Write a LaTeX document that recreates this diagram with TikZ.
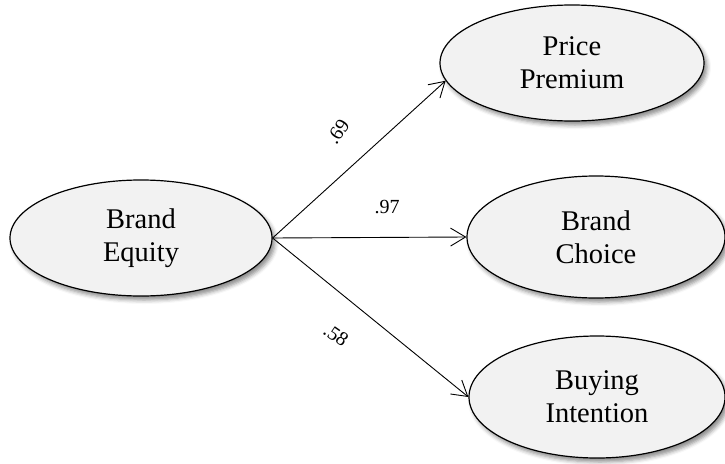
\documentclass[tikz,border=0pt]{standalone}
\usepackage{fontspec}
\setmainfont{Liberation Serif}
\usetikzlibrary{arrows.meta,shadows.blur,shapes.geometric}
\definecolor{ovalfill}{HTML}{F2F2F2}
\tikzset{
  construct/.style={ellipse, draw=black, line width=1.2pt, fill=ovalfill,
    align=center, inner sep=0pt,
    font=\fontsize{28.5}{33}\selectfont,
    blur shadow={shadow xshift=3pt, shadow yshift=-4pt,
      shadow blur radius=4pt, shadow opacity=45}},
  sempath/.style={line width=0.9pt,
    -{Straight Barb[length=15pt, width=18pt, line width=0.9pt]}},
  coef/.style={font=\fontsize{20}{22}\selectfont, inner sep=0pt}
}
\begin{document}
\begin{tikzpicture}[x=1pt, y=-1pt]
  \useasboundingbox (0,0) rectangle (725,463);

  % latent constructs
  \node[construct, minimum width=262pt, minimum height=116pt] (be) at (141,238) {Brand\\Equity};
  \node[construct, minimum width=264pt, minimum height=116pt] (pp) at (572,63) {Price\\Premium};
  \node[construct, minimum width=258pt, minimum height=122pt] (bc) at (596,237) {Brand\\Choice};
  \node[construct, minimum width=256pt, minimum height=122pt] (bi) at (597,397) {Buying\\Intention};

  % structural paths
  \draw[sempath] (be.east) -- (pp.188);
  \draw[sempath] (be.east) -- (bc.west);
  \draw[sempath] (be.east) -- (bi.west);

  % path coefficients
  \node[coef, rotate=56] (c1) at (338,132) {.69};
  \node[coef] (c2) at (387,207) {.97};
  \node[coef, rotate=-35] (c3) at (336,335) {.58};
\end{tikzpicture}
\end{document}
